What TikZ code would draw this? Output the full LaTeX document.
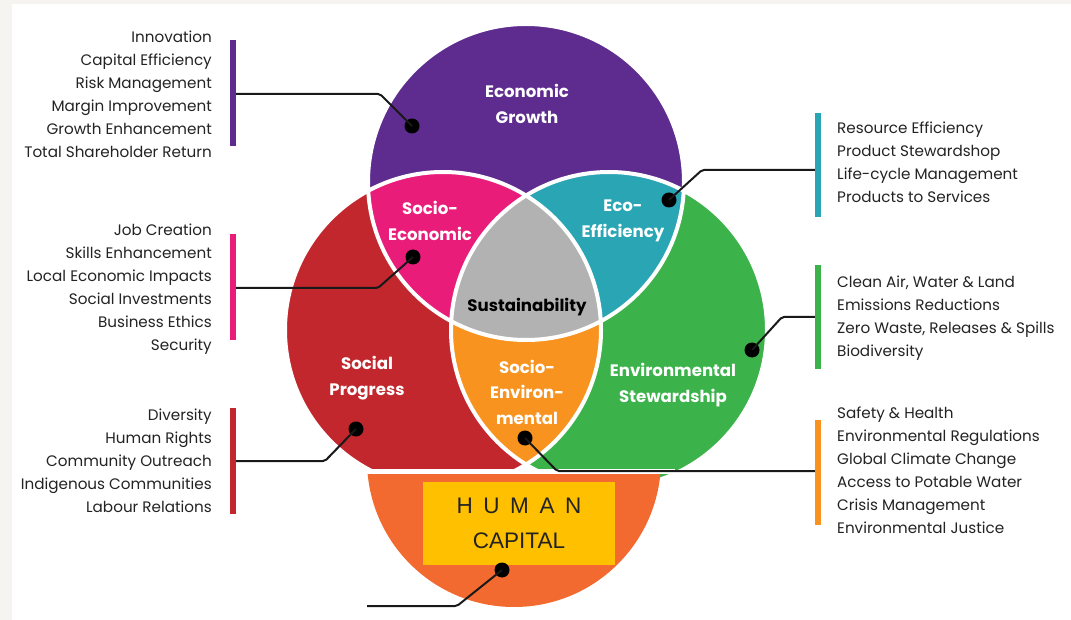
\documentclass[tikz,border=0pt]{standalone}
\usepackage{fontspec}
\setmainfont{Poppins}
\newfontfamily\boxfont{Liberation Sans}
\definecolor{paper}{RGB}{245,244,240}
\definecolor{purp}{RGB}{94,43,142}
\definecolor{redc}{RGB}{193,39,45}
\definecolor{greenc}{RGB}{59,179,74}
\definecolor{pinkc}{RGB}{234,28,122}
\definecolor{tealc}{RGB}{42,165,180}
\definecolor{greyc}{RGB}{178,178,178}
\definecolor{orangec}{RGB}{247,147,30}
\definecolor{humanc}{RGB}{242,106,47}
\definecolor{yellowc}{RGB}{255,192,0}
\definecolor{listgrey}{RGB}{35,35,35}
\definecolor{linegrey}{RGB}{25,25,25}
\tikzset{
  regionlabel/.style={text=white, font=\bfseries\fontsize{16.6}{25.5}\selectfont, align=center, inner sep=0pt},
  listtext/.style={text=listgrey, font=\fontsize{15.2}{23}\selectfont, inner sep=0pt},
  dotmark/.style={circle, fill=black, minimum size=15pt, inner sep=0pt},
  conn/.style={draw=linegrey, line width=2pt, rounded corners=2pt},
  sidebar/.style={rectangle, fill=#1, minimum width=6pt, inner sep=0pt},
  venn/.style={draw=white, line width=4pt},
}
\begin{document}
\begin{tikzpicture}[x=1pt,y=-1pt]
\useasboundingbox (0,0) rectangle (1071,620);
\fill[white] (0,0) rectangle (1071,620);
\fill[paper] (0,0) rectangle (12,620);
\fill[paper] (0,0) rectangle (1071,4);

% three overlapping circles
\fill[purp] (526,182) circle (158);
\fill[redc] (443,330) circle (158);
\fill[greenc] (609,330) circle (158);
\begin{scope}
  \clip (526,182) circle (158);
  \fill[pinkc] (443,330) circle (158);
  \fill[tealc] (609,330) circle (158);
\end{scope}
\begin{scope}
  \clip (443,330) circle (158);
  \fill[orangec] (609,330) circle (158);
  \clip (609,330) circle (158);
  \fill[greyc] (526,182) circle (158);
\end{scope}
\draw[venn] (526,182) circle (158);
\draw[venn] (443,330) circle (158);
\draw[venn] (609,330) circle (158);

% human capital base
\begin{scope}
  \clip (300,473) rectangle (720,620);
  \fill[humanc] (514,460) circle (147);
\end{scope}
\draw[white, line width=5pt] (355,471) -- (675,471);

\node[fill=yellowc, minimum width=192pt, minimum height=83pt, inner sep=0pt,
      text=listgrey, align=center, font=\boxfont\fontsize{22.5}{35}\selectfont]
  (hc) at (519,523.5) {{\spaceskip=10.6pt plus 0pt minus 0pt H U M A N}\\CAPITAL};

% region labels
\node[regionlabel] (tEG) at (527,104) {Economic\\Growth};
\node[regionlabel] (tSoE) at (430,221) {Socio-\\Economic};
\node[regionlabel] (tEE) at (623,221) {Eco-\\Efficiency};
\node[regionlabel, text=black] (tSus) at (527,307) {Sustainability};
\node[regionlabel] (tSP) at (367,378) {Social\\Progress};
\node[regionlabel] (tSEn) at (527,392) {Socio-\\Environ-\\mental};
\node[regionlabel] (tES) at (673,385) {Environmental\\Stewardship};

% marker dots
\node[dotmark] (dEG) at (412,126) {};
\node[dotmark] (dSoE) at (413,257) {};
\node[dotmark] (dSP) at (356,429) {};
\node[dotmark] (dEE) at (669,200) {};
\node[dotmark] (dES) at (752,350) {};
\node[dotmark] (dSEn) at (525,438) {};
\node[dotmark] (dHC) at (502,570) {};

% side bars
\node[sidebar=purp, minimum height=106pt] (bEG) at (233,93) {};
\node[sidebar=pinkc, minimum height=106pt] (bSoE) at (233,287) {};
\node[sidebar=redc, minimum height=106pt] (bSP) at (233,461) {};
\node[sidebar=tealc, minimum height=104pt] (bEE) at (818,165) {};
\node[sidebar=greenc, minimum height=104pt] (bES) at (818,317) {};
\node[sidebar=orangec, minimum height=105pt] (bSEn) at (818,472) {};

% connector bends
\coordinate (kEG) at (380,94);
\coordinate (kSoE) at (378,288);
\coordinate (kSP) at (325,461);
\coordinate (kEE) at (702,170);
\coordinate (kES) at (782,317);
\coordinate (kSEn) at (557,471);
\coordinate (kHC) at (457,606);
\coordinate (eHC) at (367,606);

\draw[conn] (bEG.east |- kEG) -- (kEG) -- (dEG.center);
\draw[conn] (bSoE.east |- kSoE) -- (kSoE) -- (dSoE.center);
\draw[conn] (bSP.east |- kSP) -- (kSP) -- (dSP.center);
\draw[conn] (bEE.west |- kEE) -- (kEE) -- (dEE.center);
\draw[conn] (bES.west |- kES) -- (kES) -- (dES.center);
\draw[conn] (bSEn.west |- kSEn) -- (kSEn) -- (dSEn.center);
\draw[conn] (dHC.center) -- (kHC) -- (eHC);

% item lists
\node[listtext, align=right, anchor=north east] (lEG) at (212,31)
  {Innovation\\Capital Efficiency\\Risk Management\\Margin Improvement\\Growth Enhancement\\Total Shareholder Return};
\node[listtext, align=right, anchor=north east] (lSoE) at (212,224)
  {Job Creation\\Skills Enhancement\\Local Economic Impacts\\Social Investments\\Business Ethics\\Security};
\node[listtext, align=right, anchor=north east] (lSP) at (212,409)
  {Diversity\\Human Rights\\Community Outreach\\Indigenous Communities\\Labour Relations};
\node[listtext, align=left, anchor=north west] (lEE) at (837,122)
  {Resource Efficiency\\Product Stewardshop\\Life-cycle Management\\Products to Services};
\node[listtext, align=left, anchor=north west] (lES) at (837,276)
  {Clean Air, Water \& Land\\Emissions Reductions\\Zero Waste, Releases \& Spills\\Biodiversity};
\node[listtext, align=left, anchor=north west] (lSEn) at (837,407)
  {Safety \& Health\\Environmental Regulations\\Global Climate Change\\Access to Potable Water\\Crisis Management\\Environmental Justice};
\end{tikzpicture}
\end{document}
